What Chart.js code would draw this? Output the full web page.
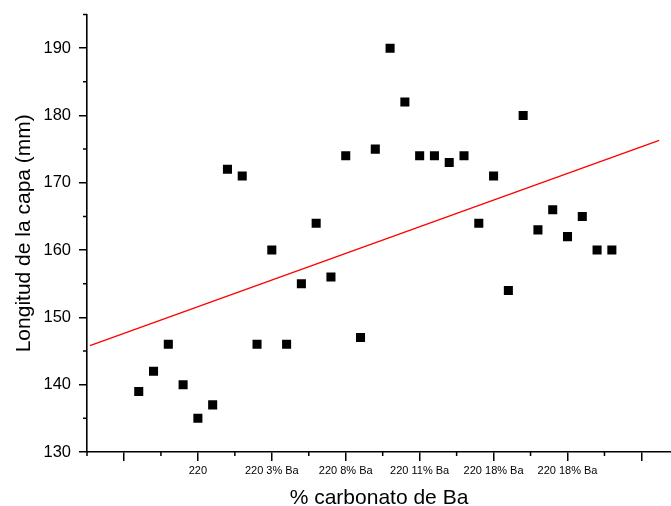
<!DOCTYPE html>
<html>
<head>
<meta charset="utf-8">
<script src="https://cdn.jsdelivr.net/npm/chart.js@4/dist/chart.umd.min.js"></script>
<style>
  html, body { margin: 0; padding: 0; background: #fff; }
  #wrap { width: 671px; height: 506px; position: relative; }
</style>
</head>
<body>
<div id="wrap"><canvas id="c" width="671" height="506"></canvas></div>
<script>
// ---- data ----
const sampleIndex = [1,2,3,4,5,6,7,8,9,10,11,12,13,14,15,16,17,18,19,20,21,22,23,24,25,26,27,28,29,30,31,32,33];
const layerLength = [139,142,146,140,135,137,172,171,146,160,146,155,164,156,174,147,175,190,182,174,174,173,174,164,171,154,180,163,166,162,165,160,160];
// red fitted line endpoints
const fitX = [-2.3, 36.2];
const fitY = [145.8, 176.3];
// axis ticks
const xMajorTicks = [0,5,10,15,20,25,30,35];
const xTickLabels = ['', '220', '220 3% Ba', '220 8% Ba', '220 11% Ba', '220 18% Ba', '220 18% Ba', ''];
const xMinorTicks = [-2.5,2.5,7.5,12.5,17.5,22.5,27.5,32.5];
const yMajorTicks = [130,140,150,160,170,180,190];
const yMinorTicks = [135,145,155,165,175,185,195];

const FONT = "'Liberation Sans', Arial, Helvetica, sans-serif";

const minorTicks = {
  id: 'minorTicks',
  afterDraw(chart) {
    const ctx = chart.ctx;
    const xs = chart.scales.x, ys = chart.scales.y;
    ctx.save();
    ctx.strokeStyle = '#000';
    ctx.lineWidth = 1.5;
    ctx.beginPath();
    xMinorTicks.forEach(v => {
      const px = xs.getPixelForValue(v);
      ctx.moveTo(px, xs.top); ctx.lineTo(px, xs.top + 4);
    });
    yMinorTicks.forEach(v => {
      const py = ys.getPixelForValue(v);
      ctx.moveTo(ys.right, py); ctx.lineTo(ys.right - 4, py);
    });
    ctx.stroke();
    ctx.restore();
  }
};

new Chart(document.getElementById('c'), {
  type: 'scatter',
  data: {
    datasets: [
      {
        data: sampleIndex.map((x, i) => ({ x: x, y: layerLength[i] })),
        pointStyle: 'rect',
        pointRadius: 6.4,
        pointHoverRadius: 6.4,
        backgroundColor: '#000',
        borderColor: '#000',
        borderWidth: 0,
        showLine: false
      },
      {
        data: fitX.map((x, i) => ({ x: x, y: fitY[i] })),
        showLine: true,
        pointRadius: 0,
        borderColor: '#ff0000',
        borderWidth: 1.3,
        fill: false
      }
    ]
  },
  options: {
    responsive: false,
    animation: false,
    events: [],
    layout: { autoPadding: false, padding: { top: 14.5, right: 0, left: 0, bottom: 0 } },
    plugins: { legend: { display: false }, tooltip: { enabled: false } },
    scales: {
      x: {
        type: 'linear',
        min: -2.5,
        max: 37,
        afterBuildTicks: s => { s.ticks = xMajorTicks.map(v => ({ value: v })); },
        afterFit: s => { s.height = 54; s.paddingRight = 0; s.paddingLeft = 0; },
        ticks: {
          callback: v => { const i = xMajorTicks.indexOf(v); return i >= 0 ? xTickLabels[i] : ''; },
          font: { family: FONT, size: 11 },
          color: '#000',
          maxRotation: 0,
          minRotation: 0,
          autoSkip: false,
          padding: 3
        },
        grid: { drawOnChartArea: false, drawTicks: true, tickLength: 9, color: '#000', lineWidth: 1.5 },
        border: { display: true, color: '#000', width: 1.6 },
        title: { display: true, text: '% carbonato de Ba', color: '#000', font: { family: FONT, size: 21, lineHeight: 0.72 }, padding: { top: 0, bottom: 0 } }
      },
      y: {
        type: 'linear',
        min: 130,
        max: 195,
        afterBuildTicks: s => { s.ticks = yMajorTicks.map(v => ({ value: v })); },
        afterFit: s => { s.width = 87; s.paddingTop = 0; s.paddingBottom = 0; },
        ticks: {
          font: { family: FONT, size: 16.5 },
          color: '#000',
          padding: 8
        },
        grid: { drawOnChartArea: false, drawTicks: true, tickLength: 8, color: '#000', lineWidth: 1.5 },
        border: { display: true, color: '#000', width: 1.6 },
        title: { display: true, text: 'Longitud de la capa (mm)', color: '#000', font: { family: FONT, size: 21, lineHeight: 1 }, padding: { top: 14, bottom: 0 } }
      }
    }
  },
  plugins: [minorTicks]
});
</script>
</body>
</html>
